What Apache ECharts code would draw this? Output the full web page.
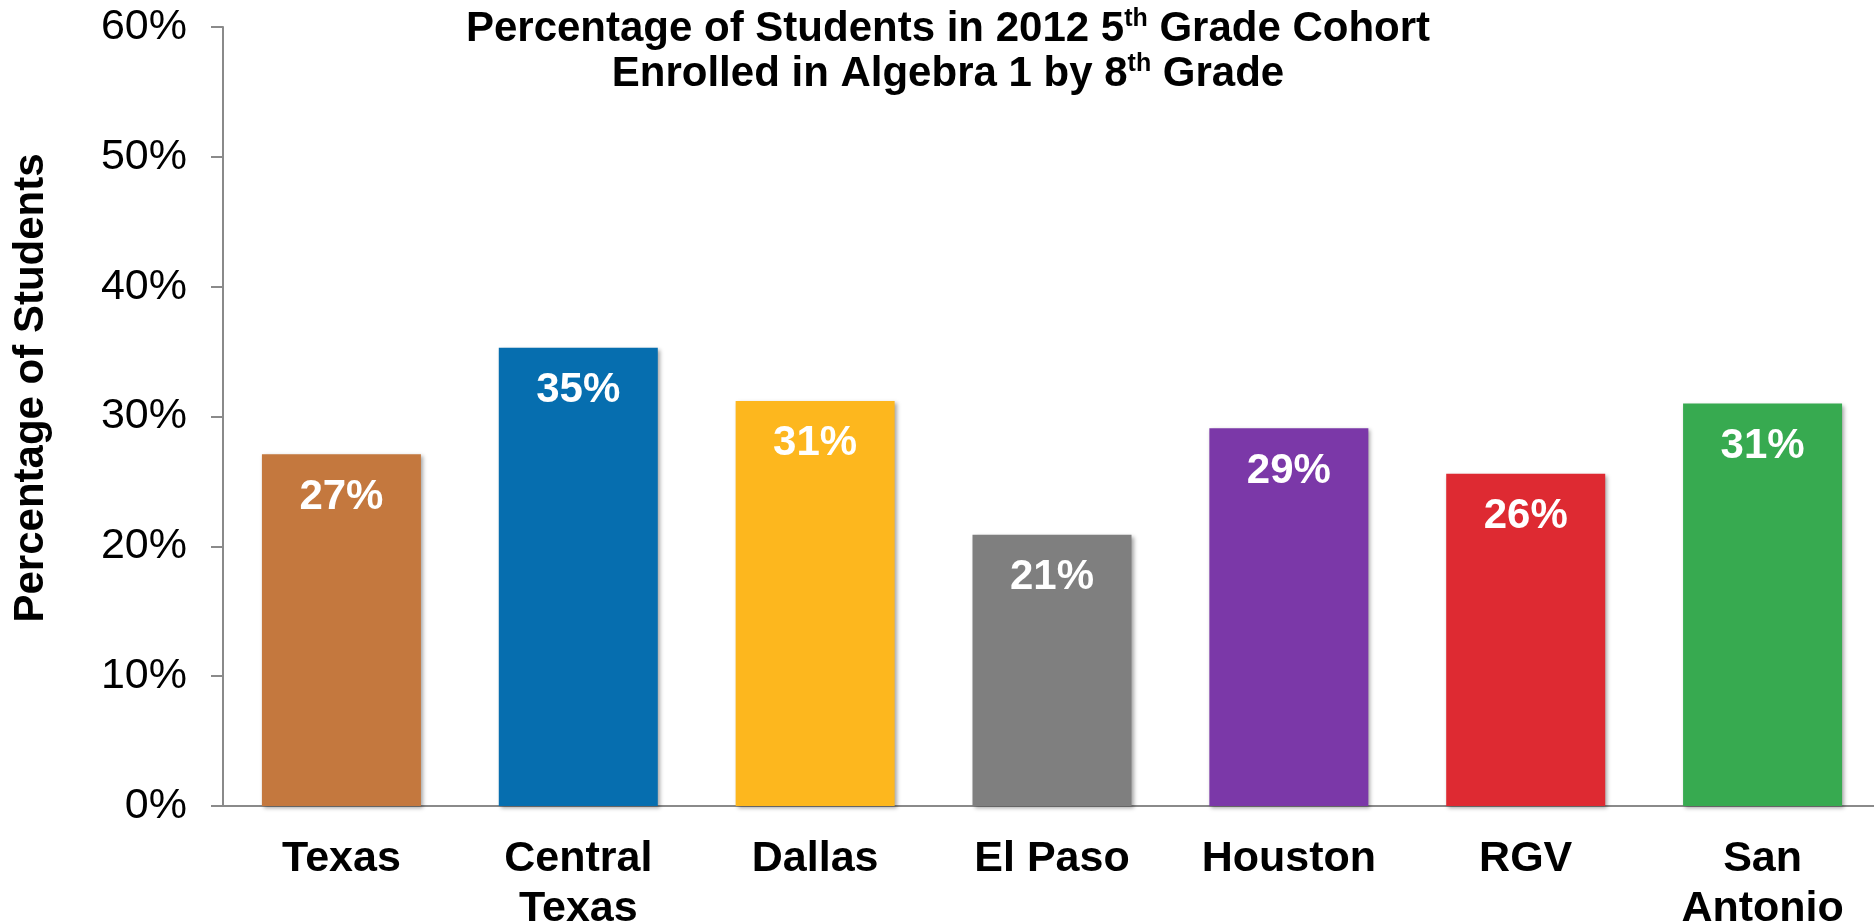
<!DOCTYPE html>
<html>
<head>
<meta charset="utf-8">
<title>Algebra 1 Enrollment by 8th Grade</title>
<script src="https://cdn.jsdelivr.net/npm/echarts@6/dist/echarts.min.js"></script>
<style>
  html, body { margin: 0; padding: 0; background: #ffffff; }
  #chart { width: 1874px; height: 921px; }
</style>
</head>
<body>
<div id="chart"></div>
<script>
// Regions in the 2012 5th grade cohort
const categories = ['Texas', 'Central\nTexas', 'Dallas', 'El Paso', 'Houston', 'RGV', 'San\nAntonio'];
// Percent of students enrolled in Algebra 1 by 8th grade
const enrolledPct = [27.1, 35.3, 31.2, 20.9, 29.1, 25.6, 31.0];
// One fill colour per region
const barColors = ['#C4783E', '#066EAF', '#FDB71E', '#7F7F7F', '#7B38A8', '#DE2A32', '#37AA50'];
// Value axis range
const yMin = 0, yMax = 60, yStep = 10;

const FONT = 'Arial, "Liberation Sans", Helvetica, sans-serif';
const AXIS_GREY = '#8a8a8a';

const chart = echarts.init(document.getElementById('chart'), null, { renderer: 'canvas' });

chart.setOption({
  backgroundColor: '#ffffff',
  animation: false,
  title: {
    text: '{a|Percentage of Students in 2012 5}{s|th}{a| Grade Cohort}\n{a|Enrolled in Algebra 1 by 8}{s|th}{a| Grade}',
    left: 943,
    top: 2,
    textAlign: 'center',
    textStyle: {
      fontFamily: FONT,
      fontWeight: 'bold',
      color: '#000',
      rich: {
        a: { fontFamily: FONT, fontWeight: 'bold', fontSize: 42, lineHeight: 45, color: '#000' },
        s: { fontFamily: FONT, fontWeight: 'bold', fontSize: 25, lineHeight: 45, verticalAlign: 'top', color: '#000' }
      }
    }
  },
  graphic: [{
    type: 'text',
    x: 31,
    y: 388,
    rotation: Math.PI / 2,
    style: {
      text: 'Percentage of Students',
      fontFamily: FONT,
      fontWeight: 'bold',
      fontSize: 42,
      fill: '#000',
      textAlign: 'center',
      textVerticalAlign: 'middle'
    }
  }],
  grid: {
    left: 223,
    top: 27,
    bottom: 115,
    width: 1658,
    containLabel: false,
    outerBoundsMode: 'none'
  },
  xAxis: {
    type: 'category',
    data: categories,
    axisLine: { show: true, lineStyle: { color: AXIS_GREY, width: 2 } },
    axisTick: { show: false },
    axisLabel: {
      margin: 28,
      fontFamily: FONT,
      fontWeight: 'bold',
      fontSize: 43,
      lineHeight: 50,
      color: '#000',
      interval: 0
    },
    splitLine: { show: false }
  },
  yAxis: {
    type: 'value',
    min: yMin,
    max: yMax,
    interval: yStep,
    axisLine: { show: true, lineStyle: { color: AXIS_GREY, width: 2 } },
    axisTick: { show: true, length: 12, lineStyle: { color: AXIS_GREY, width: 2 } },
    axisLabel: {
      margin: 36,
      fontFamily: FONT,
      fontSize: 43,
      color: '#000',
      formatter: '{value}%'
    },
    splitLine: { show: false }
  },
  series: [{
    type: 'bar',
    barWidth: 159,
    data: enrolledPct.map((v, i) => ({
      value: v,
      itemStyle: {
        color: barColors[i],
        shadowColor: 'rgba(0,0,0,0.35)',
        shadowBlur: 4,
        shadowOffsetX: 2,
        shadowOffsetY: 2
      }
    })),
    label: {
      show: true,
      position: 'insideTop',
      distance: 22,
      fontFamily: FONT,
      fontWeight: 'bold',
      fontSize: 42,
      color: '#ffffff',
      formatter: p => Math.round(p.value) + '%'
    }
  }]
});
</script>
</body>
</html>
